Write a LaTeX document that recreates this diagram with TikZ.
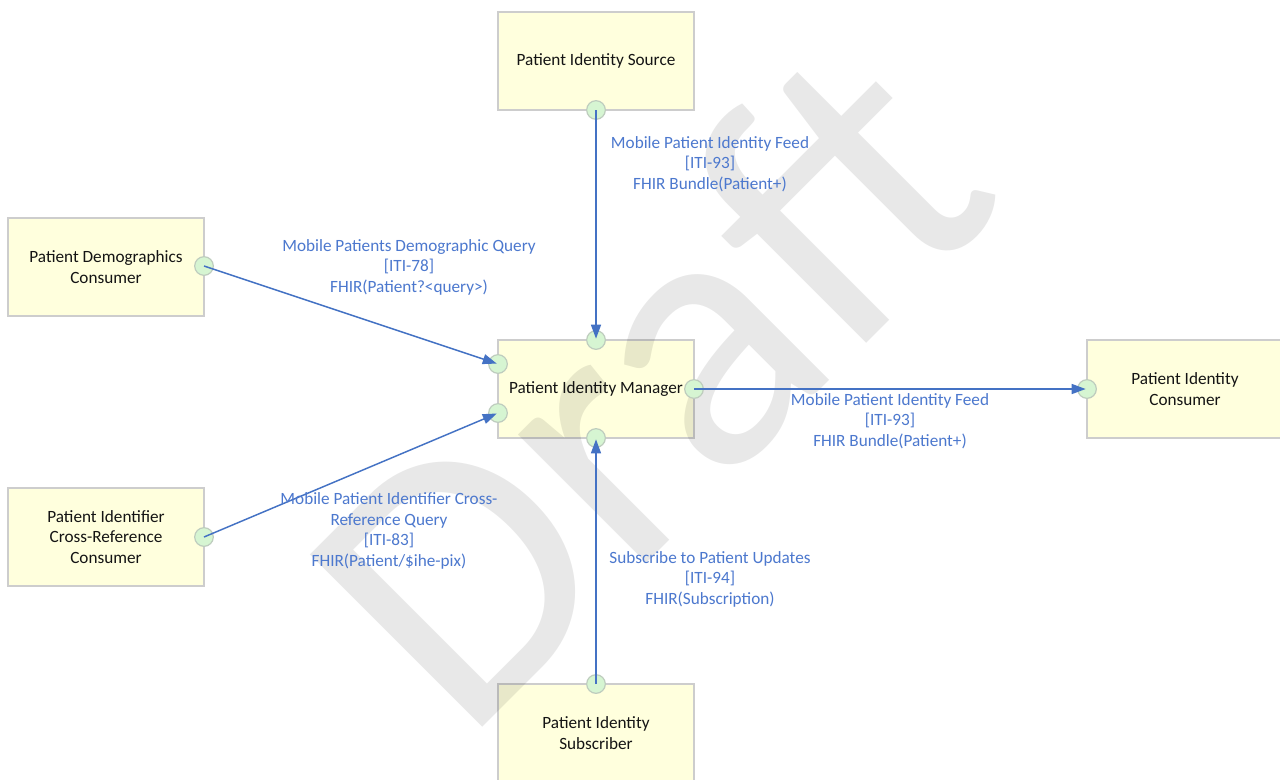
\documentclass[tikz,border=0pt]{standalone}
\usepackage{fontspec}
\setmainfont{Carlito}
\usetikzlibrary{arrows.meta}

\definecolor{boxfill}{RGB}{255,255,221}
\definecolor{boxline}{RGB}{205,205,205}
\definecolor{boxtext}{RGB}{20,20,20}
\definecolor{portfill}{RGB}{214,245,210}
\definecolor{portline}{RGB}{190,204,190}
\definecolor{flowblue}{RGB}{68,114,196}
\definecolor{labelblue}{RGB}{76,120,206}

\newcommand\actfont{\fontsize{12.9pt}{15.6pt}\selectfont}
\newcommand\lblfont{\fontsize{12.9pt}{15.4pt}\selectfont}
\newcommand\wmfont{\fontsize{285pt}{285pt}\selectfont}

\tikzset{
  actor/.style={draw=boxline, fill=boxfill, line width=1.1pt,
    minimum width=147pt, minimum height=73.5pt, inner sep=0pt,
    font=\actfont, text=boxtext, align=center},
  port/.style={circle, draw=portline, fill=portfill, line width=0.9pt,
    minimum size=14pt, inner sep=0pt},
  flow/.style={draw=flowblue, line width=1.1pt,
    -{Triangle[length=10.5pt,width=7.5pt]}, shorten >=1pt},
  flowlabel/.style={font=\lblfont, text=labelblue, align=center, inner sep=0pt},
  watermark/.style={font=\wmfont, text=black, text opacity=0.09,
    inner sep=0pt, anchor=base west, rotate=45}
}

\begin{document}
\begin{tikzpicture}[x=0.75pt, y=-0.75pt]
  \useasboundingbox (0,0) rectangle (1280,779);
  \clip (0,0) rectangle (1280,779);
  \fill[white] (0,0) rectangle (1280,779);

  % actors
  \node[actor] (src)  at (596,61)   {Patient Identity Source};
  \node[actor] (pdc)  at (106,267)  {Patient Demographics\\Consumer};
  \node[actor] (pim)  at (596,389)  {Patient Identity Manager};
  \node[actor] (pic)  at (1185,389) {Patient Identity\\Consumer};
  \node[actor] (pixc) at (106,537)  {Patient Identifier\\Cross-Reference\\Consumer};
  \node[actor] (sub)  at (596,733)  {Patient Identity\\Subscriber};

  % watermark
  \node[watermark] (draft) at (464,746) {Draft};

  % ports
  \node[port] (src-p)  at (596,110) {};
  \node[port] (pdc-p)  at (204,266) {};
  \node[port] (pixc-p) at (204,537) {};
  \node[port] (pim-t)  at (596,340) {};
  \node[port] (pim-lu) at (498,364) {};
  \node[port] (pim-ll) at (498,413) {};
  \node[port] (pim-r)  at (694,389) {};
  \node[port] (pim-b)  at (596,438) {};
  \node[port] (pic-p)  at (1087,389) {};
  \node[port] (sub-p)  at (596,684) {};

  % flows
  \draw[flow] (src-p.center)  -- (pim-t.center);
  \draw[flow] (pdc-p.center)  -- (pim-lu.center);
  \draw[flow] (pixc-p.center) -- (pim-ll.center);
  \draw[flow] (pim-r.center)  -- (pic-p.center);
  \draw[flow] (sub-p.center)  -- (pim-b.center);

  % flow labels
  \node[flowlabel] (l-feed1) at (710,164) {Mobile Patient Identity Feed\\{}[ITI-93]\\FHIR Bundle(Patient+)};
  \node[flowlabel] (l-pdq)   at (409,267) {Mobile Patients Demographic Query\\{}[ITI-78]\\FHIR(Patient?<query>)};
  \node[flowlabel] (l-pix)   at (389,531) {Mobile Patient Identifier Cross-\\Reference Query\\{}[ITI-83]\\FHIR(Patient/\$ihe-pix)};
  \node[flowlabel] (l-feed2) at (890,421) {Mobile Patient Identity Feed\\{}[ITI-93]\\FHIR Bundle(Patient+)};
  \node[flowlabel] (l-sub)   at (710,579) {Subscribe to Patient Updates\\{}[ITI-94]\\FHIR(Subscription)};
\end{tikzpicture}
\end{document}
